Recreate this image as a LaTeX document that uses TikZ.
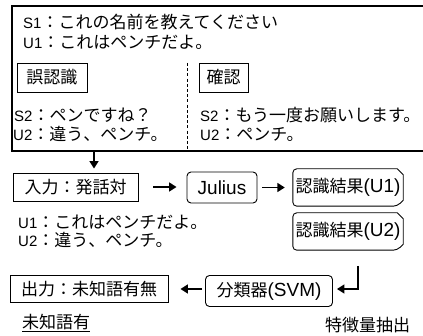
\documentclass[tikz,border=0pt]{standalone}
\usepackage{fontspec}
\setmainfont{Noto Sans CJK JP}
\newfontfamily\lf{Liberation Sans}
\newcommand\latA[1]{{\fontsize{15}{19}\selectfont\lf #1}}
\newcommand\latB[1]{{\fontsize{19}{22}\selectfont\lf #1}}
\usetikzlibrary{arrows.meta,calc}
\begin{document}
\begin{tikzpicture}[x=1pt,y=-1pt,
  font=\fontsize{17}{20}\selectfont,
  txt/.style={anchor=west,inner sep=0pt},
  sbox/.style={draw,line width=0.9pt,inner sep=0pt},
  rbox/.style={draw,line width=0.9pt,inner sep=0pt,rounded corners=4pt},
  arr/.style={line width=1.7pt,-{Triangle[length=7.5pt,width=9pt]}},
  frame/.style={line width=1.1pt}]
\useasboundingbox (0,0) rectangle (423,336);
% top frame (right side beyond picture)
\coordinate (ftr) at (424,6);
\coordinate (ftl) at (12,6);
\coordinate (fbl) at (12,151);
\coordinate (fbr) at (424,151);
\draw[frame] (ftr) -- (ftl) -- (fbl) -- (fbr);
\node[txt] (s1) at (23,22) {\latA{S1}：これの名前を教えてください};
\node[txt] (u1) at (23,42) {\latA{U1}：これはペンチだよ。};
\node[sbox,minimum width=70pt,minimum height=29pt] (err) at (52,77.5) {誤認識};
\node[sbox,minimum width=49pt,minimum height=29pt] (conf) at (223.5,77.5) {確認};
\coordinate (dtop) at (187,63);
\coordinate (dbot) at (187,151);
\draw[line width=0.7pt,dash pattern=on 3pt off 2.2pt] (dtop) -- (dbot);
\node[txt] (s2a) at (14,115) {\latA{S2}：ペンですね？};
\node[txt] (u2a) at (13,134) {\latA{U2}：違う、ペンチ。};
\node[txt] (s2b) at (200,115) {\latA{S2}：もう一度お願いします。};
\node[txt] (u2b) at (200,134) {\latA{U2}：ペンチ。};
% pipeline
\node[sbox,minimum width=125pt,minimum height=28pt] (in) at (75.5,187) {入力：発話対};
\node[rbox,minimum width=70pt,minimum height=31pt] (jul) at (222,187.5) {\latB{Julius}};
\node[minimum width=110pt,minimum height=37pt,inner sep=0pt] (r1) at (348,187.5) {認識結果\latB{(U1)}};
\node[minimum width=110pt,minimum height=37pt,inner sep=0pt] (r2) at (348,231.5) {認識結果\latB{(U2)}};
\foreach \r in {r1,r2}{
  \draw[line width=0.9pt,rounded corners=4pt] (\r.north) -- (\r.north west) -- (\r.south west)
    -- ($(\r.south east)+(-6,0)$) [sharp corners] -- ($(\r.south east)+(0,-6)$)
    -- ($(\r.north east)+(0,6)$) -- ($(\r.north east)+(-6,0)$) -- (\r.north);
}
\node[txt] (u1b) at (18,222) {\latA{U1}：これはペンチだよ。};
\node[txt] (u2c) at (18,240) {\latA{U2}：違う、ペンチ。};
\node[sbox,minimum width=158pt,minimum height=27pt] (out) at (89,289) {出力：未知語有無};
\node[rbox,minimum width=127pt,minimum height=31pt] (svm) at (269,291) {分類器\latB{(SVM)}};
\node[txt] (unk) at (22,323) {\underline{未知語有}};
\node[txt] (feat) at (325,325) {特徴量抽出};
% arrows
\coordinate (dstart) at (94,151);
\draw[arr] (dstart) -- ($(dstart |- in.north)+(0,-4)$);
\draw[arr,shorten <=15pt,shorten >=10pt] (in.east) -- (in.east -| jul.west);
\draw[arr,shorten <=5pt,shorten >=8pt] (jul.east) -- (jul.east -| r1.west);
\coordinate (fe) at (358,266);
\draw[arr] (fe) |- ($(svm.east)+(4,-2)$);
\draw[arr] ($(svm.west)+(-3,-2)$) -- ($(out.east)+(12,0)$);
\end{tikzpicture}
\end{document}
